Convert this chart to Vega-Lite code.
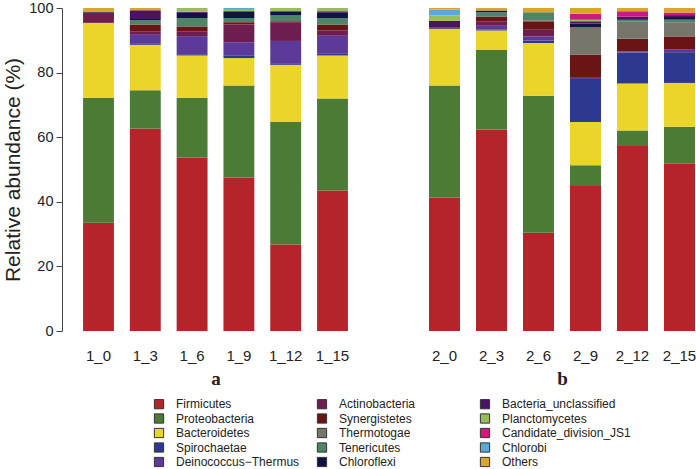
{
  "$schema": "https://vega.github.io/schema/vega-lite/v6.json",
  "padding": {"left": 2, "top": 0, "right": 0, "bottom": 0},
  "spacing": 60,
  "config": {
    "font": "Liberation Sans",
    "view": {"stroke": null},
    "axis": {"labelColor": "#222", "titleColor": "#222", "domainColor": "#444", "tickColor": "#444"}
  },
  "datasets": {
    "phyla": [
      {"p": "Firmicutes", "rank": 1},
      {"p": "Proteobacteria", "rank": 2},
      {"p": "Bacteroidetes", "rank": 3},
      {"p": "Spirochaetae", "rank": 4},
      {"p": "Deinococcus−Thermus", "rank": 5},
      {"p": "Actinobacteria", "rank": 6},
      {"p": "Synergistetes", "rank": 7},
      {"p": "Thermotogae", "rank": 8},
      {"p": "Tenericutes", "rank": 9},
      {"p": "Chloroflexi", "rank": 10},
      {"p": "Bacteria_unclassified", "rank": 11},
      {"p": "Planctomycetes", "rank": 12},
      {"p": "Candidate_division_JS1", "rank": 13},
      {"p": "Chlorobi", "rank": 14},
      {"p": "Others", "rank": 15}
    ],
    "panelA": [
      {"s": "1_0", "p": "Firmicutes", "v": 33.5},
      {"s": "1_0", "p": "Proteobacteria", "v": 38.7},
      {"s": "1_0", "p": "Bacteroidetes", "v": 23.2},
      {"s": "1_0", "p": "Actinobacteria", "v": 2.8},
      {"s": "1_0", "p": "Chloroflexi", "v": 0.5},
      {"s": "1_0", "p": "Others", "v": 1.3},
      {"s": "1_3", "p": "Firmicutes", "v": 62.7},
      {"s": "1_3", "p": "Proteobacteria", "v": 11.8},
      {"s": "1_3", "p": "Bacteroidetes", "v": 14.1},
      {"s": "1_3", "p": "Spirochaetae", "v": 0.5},
      {"s": "1_3", "p": "Deinococcus−Thermus", "v": 2.6},
      {"s": "1_3", "p": "Actinobacteria", "v": 1.1},
      {"s": "1_3", "p": "Synergistetes", "v": 2.1},
      {"s": "1_3", "p": "Tenericutes", "v": 1.3},
      {"s": "1_3", "p": "Chloroflexi", "v": 0.4},
      {"s": "1_3", "p": "Bacteria_unclassified", "v": 2.7},
      {"s": "1_3", "p": "Others", "v": 0.7},
      {"s": "1_6", "p": "Firmicutes", "v": 53.7},
      {"s": "1_6", "p": "Proteobacteria", "v": 18.5},
      {"s": "1_6", "p": "Bacteroidetes", "v": 13.1},
      {"s": "1_6", "p": "Spirochaetae", "v": 0.4},
      {"s": "1_6", "p": "Deinococcus−Thermus", "v": 5.6},
      {"s": "1_6", "p": "Actinobacteria", "v": 1.5},
      {"s": "1_6", "p": "Synergistetes", "v": 1.5},
      {"s": "1_6", "p": "Tenericutes", "v": 2.6},
      {"s": "1_6", "p": "Chloroflexi", "v": 1.6},
      {"s": "1_6", "p": "Bacteria_unclassified", "v": 0.3},
      {"s": "1_6", "p": "Planctomycetes", "v": 1.2},
      {"s": "1_9", "p": "Firmicutes", "v": 47.5},
      {"s": "1_9", "p": "Proteobacteria", "v": 28.5},
      {"s": "1_9", "p": "Bacteroidetes", "v": 8.5},
      {"s": "1_9", "p": "Spirochaetae", "v": 0.7},
      {"s": "1_9", "p": "Deinococcus−Thermus", "v": 4.2},
      {"s": "1_9", "p": "Actinobacteria", "v": 5.5},
      {"s": "1_9", "p": "Synergistetes", "v": 0.7},
      {"s": "1_9", "p": "Tenericutes", "v": 1.3},
      {"s": "1_9", "p": "Chloroflexi", "v": 2.1},
      {"s": "1_9", "p": "Planctomycetes", "v": 0.4},
      {"s": "1_9", "p": "Chlorobi", "v": 0.6},
      {"s": "1_12", "p": "Firmicutes", "v": 26.8},
      {"s": "1_12", "p": "Proteobacteria", "v": 37.9},
      {"s": "1_12", "p": "Bacteroidetes", "v": 17.7},
      {"s": "1_12", "p": "Spirochaetae", "v": 0.3},
      {"s": "1_12", "p": "Deinococcus−Thermus", "v": 7.1},
      {"s": "1_12", "p": "Actinobacteria", "v": 5.8},
      {"s": "1_12", "p": "Synergistetes", "v": 0.3},
      {"s": "1_12", "p": "Tenericutes", "v": 1.8},
      {"s": "1_12", "p": "Chloroflexi", "v": 1.3},
      {"s": "1_12", "p": "Planctomycetes", "v": 1.0},
      {"s": "1_15", "p": "Firmicutes", "v": 43.5},
      {"s": "1_15", "p": "Proteobacteria", "v": 28.5},
      {"s": "1_15", "p": "Bacteroidetes", "v": 13.3},
      {"s": "1_15", "p": "Spirochaetae", "v": 0.5},
      {"s": "1_15", "p": "Deinococcus−Thermus", "v": 5.6},
      {"s": "1_15", "p": "Actinobacteria", "v": 1.7},
      {"s": "1_15", "p": "Synergistetes", "v": 1.8},
      {"s": "1_15", "p": "Tenericutes", "v": 2.0},
      {"s": "1_15", "p": "Chloroflexi", "v": 1.6},
      {"s": "1_15", "p": "Bacteria_unclassified", "v": 0.5},
      {"s": "1_15", "p": "Planctomycetes", "v": 1.0}
    ],
    "panelB": [
      {"s": "2_0", "p": "Firmicutes", "v": 41.3},
      {"s": "2_0", "p": "Proteobacteria", "v": 34.7},
      {"s": "2_0", "p": "Bacteroidetes", "v": 17.6},
      {"s": "2_0", "p": "Chloroflexi", "v": 0.4},
      {"s": "2_0", "p": "Bacteria_unclassified", "v": 2.0},
      {"s": "2_0", "p": "Planctomycetes", "v": 1.7},
      {"s": "2_0", "p": "Chlorobi", "v": 1.8},
      {"s": "2_0", "p": "Others", "v": 0.5},
      {"s": "2_3", "p": "Firmicutes", "v": 62.4},
      {"s": "2_3", "p": "Proteobacteria", "v": 24.6},
      {"s": "2_3", "p": "Bacteroidetes", "v": 6.0},
      {"s": "2_3", "p": "Spirochaetae", "v": 0.3},
      {"s": "2_3", "p": "Deinococcus−Thermus", "v": 1.2},
      {"s": "2_3", "p": "Actinobacteria", "v": 1.4},
      {"s": "2_3", "p": "Synergistetes", "v": 1.5},
      {"s": "2_3", "p": "Tenericutes", "v": 1.3},
      {"s": "2_3", "p": "Chloroflexi", "v": 0.5},
      {"s": "2_3", "p": "Others", "v": 0.8},
      {"s": "2_6", "p": "Firmicutes", "v": 30.4},
      {"s": "2_6", "p": "Proteobacteria", "v": 42.4},
      {"s": "2_6", "p": "Bacteroidetes", "v": 16.4},
      {"s": "2_6", "p": "Spirochaetae", "v": 0.7},
      {"s": "2_6", "p": "Deinococcus−Thermus", "v": 1.3},
      {"s": "2_6", "p": "Actinobacteria", "v": 2.1},
      {"s": "2_6", "p": "Synergistetes", "v": 2.6},
      {"s": "2_6", "p": "Thermotogae", "v": 0.3},
      {"s": "2_6", "p": "Tenericutes", "v": 2.5},
      {"s": "2_6", "p": "Others", "v": 1.3},
      {"s": "2_9", "p": "Firmicutes", "v": 44.9},
      {"s": "2_9", "p": "Proteobacteria", "v": 6.4},
      {"s": "2_9", "p": "Bacteroidetes", "v": 13.4},
      {"s": "2_9", "p": "Spirochaetae", "v": 13.3},
      {"s": "2_9", "p": "Deinococcus−Thermus", "v": 0.6},
      {"s": "2_9", "p": "Synergistetes", "v": 7.0},
      {"s": "2_9", "p": "Thermotogae", "v": 8.2},
      {"s": "2_9", "p": "Tenericutes", "v": 0.3},
      {"s": "2_9", "p": "Chloroflexi", "v": 1.1},
      {"s": "2_9", "p": "Bacteria_unclassified", "v": 0.7},
      {"s": "2_9", "p": "Planctomycetes", "v": 0.5},
      {"s": "2_9", "p": "Candidate_division_JS1", "v": 1.8},
      {"s": "2_9", "p": "Others", "v": 1.8},
      {"s": "2_12", "p": "Firmicutes", "v": 57.3},
      {"s": "2_12", "p": "Proteobacteria", "v": 4.8},
      {"s": "2_12", "p": "Bacteroidetes", "v": 14.5},
      {"s": "2_12", "p": "Spirochaetae", "v": 9.6},
      {"s": "2_12", "p": "Deinococcus−Thermus", "v": 0.3},
      {"s": "2_12", "p": "Synergistetes", "v": 4.0},
      {"s": "2_12", "p": "Thermotogae", "v": 5.4},
      {"s": "2_12", "p": "Tenericutes", "v": 0.5},
      {"s": "2_12", "p": "Chloroflexi", "v": 0.2},
      {"s": "2_12", "p": "Bacteria_unclassified", "v": 0.8},
      {"s": "2_12", "p": "Candidate_division_JS1", "v": 1.6},
      {"s": "2_12", "p": "Others", "v": 1.0},
      {"s": "2_15", "p": "Firmicutes", "v": 51.8},
      {"s": "2_15", "p": "Proteobacteria", "v": 11.4},
      {"s": "2_15", "p": "Bacteroidetes", "v": 13.6},
      {"s": "2_15", "p": "Spirochaetae", "v": 9.3},
      {"s": "2_15", "p": "Deinococcus−Thermus", "v": 1.0},
      {"s": "2_15", "p": "Synergistetes", "v": 4.1},
      {"s": "2_15", "p": "Thermotogae", "v": 4.4},
      {"s": "2_15", "p": "Tenericutes", "v": 0.8},
      {"s": "2_15", "p": "Chloroflexi", "v": 0.8},
      {"s": "2_15", "p": "Bacteria_unclassified", "v": 0.6},
      {"s": "2_15", "p": "Candidate_division_JS1", "v": 0.8},
      {"s": "2_15", "p": "Others", "v": 1.4}
    ]
  },
  "resolve": {"scale": {"color": "shared"}, "legend": {"color": "shared"}},
  "hconcat": [
    {
      "data": {"name": "panelA"},
      "transform": [{"lookup": "p", "from": {"data": {"name": "phyla"}, "key": "p", "fields": ["rank"]}}],
      "width": 307,
      "height": 323,
      "mark": {"type": "bar"},
      "encoding": {
        "x": {
          "field": "s", "type": "nominal",
          "sort": ["1_0", "1_3", "1_6", "1_9", "1_12", "1_15"],
          "scale": {"paddingInner": 0.34, "paddingOuter": 0.45},
          "axis": {"title": "a", "titleFont": "Liberation Serif", "titleFontWeight": "bold", "titleFontSize": 19, "titlePadding": 6, "domain": false, "ticks": false, "labelAngle": 0, "labelFontSize": 15, "labelPadding": 17}
        },
        "y": {
          "field": "v", "type": "quantitative", "stack": "zero",
          "scale": {"domain": [0, 100], "nice": false},
          "axis": {"title": "Relative abundance (%)", "titleFontSize": 21, "titleFontWeight": "normal", "titlePadding": 5, "values": [0, 20, 40, 60, 80, 100], "grid": false, "tickSize": 6, "labelFontSize": 14.5, "labelPadding": 3}
        },
        "color": {
          "field": "p", "type": "nominal",
          "scale": {
            "domain": ["Firmicutes", "Proteobacteria", "Bacteroidetes", "Spirochaetae", "Deinococcus−Thermus", "Actinobacteria", "Synergistetes", "Thermotogae", "Tenericutes", "Chloroflexi", "Bacteria_unclassified", "Planctomycetes", "Candidate_division_JS1", "Chlorobi", "Others"],
            "range": ["#B5242A", "#4B7B35", "#EBD52B", "#2D3990", "#5C3A9A", "#6D1D4F", "#6A1515", "#77766A", "#4E8468", "#111440", "#4C1264", "#98BE5B", "#CD1A7F", "#59A9DA", "#D9A52A"]
          },
          "legend": {
            "title": null, "orient": "none", "legendX": 91, "legendY": 390,
            "columns": 3, "gridAlign": "all", "columnPadding": 10, "rowPadding": 0.5,
            "symbolType": "square", "symbolSize": 85, "symbolStrokeColor": "#333", "symbolStrokeWidth": 1,
            "labelFontSize": 12, "labelColor": "#222", "labelOffset": 11, "labelLimit": 200
          }
        },
        "order": {"field": "rank", "type": "quantitative", "sort": "ascending"}
      }
    },
    {
      "data": {"name": "panelB"},
      "transform": [{"lookup": "p", "from": {"data": {"name": "phyla"}, "key": "p", "fields": ["rank"]}}],
      "width": 266,
      "height": 323,
      "mark": {"type": "bar"},
      "encoding": {
        "x": {
          "field": "s", "type": "nominal",
          "sort": ["2_0", "2_3", "2_6", "2_9", "2_12", "2_15"],
          "scale": {"paddingInner": 0.34, "paddingOuter": 0},
          "axis": {"title": "b", "titleFont": "Liberation Serif", "titleFontWeight": "bold", "titleFontSize": 19, "titlePadding": 6, "domain": false, "ticks": false, "labelAngle": 0, "labelFontSize": 15, "labelPadding": 17}
        },
        "y": {
          "field": "v", "type": "quantitative", "stack": "zero",
          "scale": {"domain": [0, 100], "nice": false},
          "axis": null
        },
        "color": {"field": "p", "type": "nominal", "legend": null},
        "order": {"field": "rank", "type": "quantitative", "sort": "ascending"}
      }
    }
  ]
}
